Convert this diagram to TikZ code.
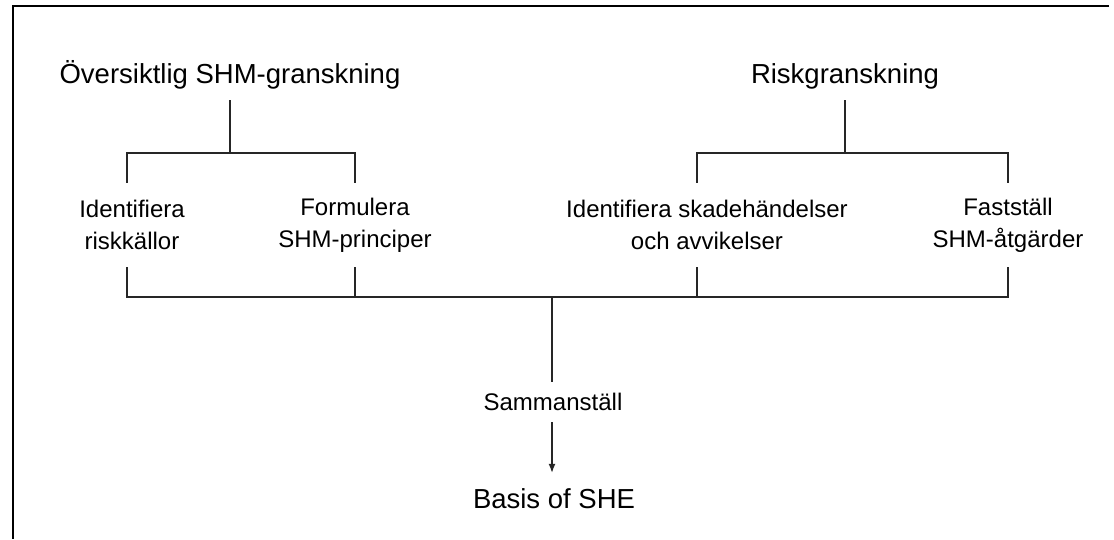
\documentclass[tikz,border=0pt]{standalone}
\usepackage{fontspec}
\setmainfont{Liberation Sans}
\usetikzlibrary{arrows.meta}
\begin{document}
\begin{tikzpicture}[x=1pt,y=-1pt,
  frame/.style={line width=2pt, black},
  link/.style={line width=1.3pt, black!85},
  flow/.style={link, -{Latex[length=9pt,width=7pt]}},
  title/.style={inner sep=0pt, anchor=base, text height=24pt, text depth=17pt,
    font=\fontsize{27.5pt}{30pt}\selectfont},
  item/.style={inner sep=0pt, align=center, minimum height=84pt,
    font=\fontsize{24pt}{32pt}\selectfont}]
\useasboundingbox (0,0) rectangle (1114,539);

% open frame: top and left edges only
\draw[frame] (1109,6) -- (12.5,6) -- (12.5,539);

% the two reviews
\node[title] (t1) at (230,83) {Översiktlig SHM-granskning};
\node[title] (t2) at (845,83) {Riskgranskning};

% their steps
\node[item] (a1) at (132,225) {Identifiera\\riskkällor};
\node[item] (a2) at (355,225) {Formulera\\SHM-principer};
\node[item] (a3) at (707,225) {Identifiera skadehändelser\\och avvikelser};
\node[item] (a4) at (1008,225) {Fastställ\\SHM-åtgärder};

% compilation and result
\node[inner sep=0pt, anchor=base, text height=28pt, text depth=12pt,
  font=\fontsize{24pt}{28pt}\selectfont] (sam) at (553,410) {Sammanställ};
\node[inner sep=0pt, anchor=base, text height=35pt, text depth=0pt,
  font=\fontsize{27.5pt}{32pt}\selectfont] (res) at (554,508) {Basis of SHE};

% branch points
\coordinate (h1) at (230,153);
\coordinate (h2) at (845,153);
\coordinate (c1) at (127,297);
\coordinate (c2) at (355,297);
\coordinate (c3) at (697,297);
\coordinate (c4) at (1008,297);
\coordinate (hb) at (552,297);

% upper trees
\draw[link] (t1.south) -- (h1);
\draw[link] (c1 |- a1.north) |- (h1) -| (c2 |- a2.north);
\draw[link] (t2.south) -- (h2);
\draw[link] (c3 |- a3.north) |- (h2) -| (c4 |- a4.north);

% collecting bar
\draw[link] (c1 |- a1.south) -- (c1) -- (c4) -- (c4 |- a4.south);
\draw[link] (c2 |- a2.south) -- (c2);
\draw[link] (c3 |- a3.south) -- (c3);
\draw[link] (hb) -- (hb |- sam.north);
\draw[flow] (hb |- sam.south) -- (hb |- res.north);
\end{tikzpicture}
\end{document}
